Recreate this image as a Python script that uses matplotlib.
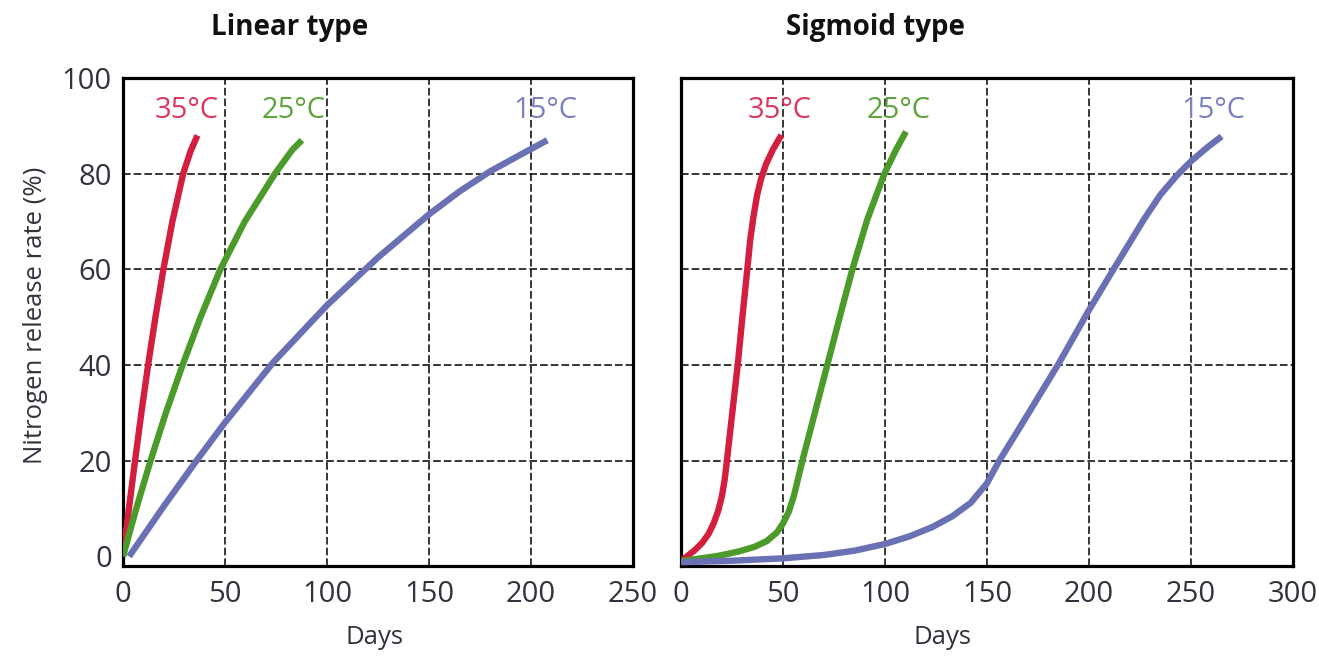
import matplotlib
matplotlib.use("Agg")
import matplotlib.pyplot as plt

plt.rcParams["font.family"] = ["Open Sans", "DejaVu Sans"]

# linear type curves (days, release %)
lin_35_days = [0, 2.9, 5.9, 9.0, 12.3, 15.9, 19.8, 24.2, 29.5, 33.2, 36.5]
lin_35_rate = [0, 10, 20, 30, 40, 50, 60, 70, 80, 84.8, 88]
lin_25_days = [0, 6.5, 13.5, 21, 29.2, 38, 47.7, 59.7, 74.5, 83, 87.7]
lin_25_rate = [0, 10, 20, 30, 40, 50, 60, 70, 80, 85, 87]
lin_15_days = [3, 20, 36, 50, 73.5, 100, 125, 150, 165, 180, 195, 208]
lin_15_rate = [0, 10.5, 20, 28, 40.5, 52.5, 62.5, 71.5, 76.3, 80.5, 84, 87]

# sigmoid type curves
sig_35_days = [0, 3.5, 7, 10.5, 13.5, 16, 18.2, 20, 21.4, 22.5, 25, 27.8, 30,
               32.5, 33.9, 35.5, 37.3, 39.3, 41.7, 45, 49.2]
sig_35_rate = [-1, 0.2, 1.4, 2.9, 4.7, 6.9, 9.5, 12.5, 16, 20, 29.5, 40, 49.6,
               60, 66, 71, 75.5, 79, 82, 85, 88.1]
sig_25_days = [0, 18, 28, 36, 42, 47, 50, 52.8, 55.3, 59.5, 65.6, 71.7, 77.8,
               84, 91.3, 99.7, 105.4, 110.3]
sig_25_rate = [-1, 0.1, 1, 2, 3.2, 5, 6.9, 9.3, 12.6, 20, 30, 40, 50,
               60, 70.4, 80, 85, 88.8]
sig_15_days = [0, 25, 50, 70, 85, 100, 112, 123, 133, 142, 150, 156, 165, 175,
               185, 200, 212, 227, 235, 243, 250, 258, 265]
sig_15_rate = [-1.2, -0.9, -0.4, 0.3, 1.2, 2.6, 4.2, 6.1, 8.4, 11.2, 15.3, 20,
               26.2, 33.2, 40.2, 51.5, 60, 70.5, 75.6, 79.6, 82.6, 85.5, 87.8]

temps = ["35°C", "25°C", "15°C"]
line_colors = ["#d21f40", "#4c9a2a", "#6970b3"]
label_colors = ["#d9395c", "#5ea43c", "#7a80c0"]
lin_label_x = [31.4, 83.8, 206.9]
sig_label_x = [48.3, 106.8, 261]
label_y = 93.3

lin_ticks = [0, 50, 100, 150, 200, 250]
sig_ticks = [0, 50, 100, 150, 200, 250, 300]
y_ticks = [0, 20, 40, 60, 80, 100]

W, H = 1319, 656
fig = plt.figure(figsize=(W / 100, H / 100), dpi=100)
ax1 = fig.add_axes([123 / W, 90 / H, 510 / W, 488 / H])
ax2 = fig.add_axes([681 / W, 90 / H, 612 / W, 488 / H])

tick_color = "#33333f"

for ax in (ax1, ax2):
    for s in ax.spines.values():
        s.set_linewidth(2.3)
        s.set_color("black")
    ax.tick_params(length=0, labelsize=21, colors=tick_color)
    ax.tick_params(axis="x", pad=10)
    ax.tick_params(axis="y", pad=8)
    ax.set_ylim(-2, 100)
    ax.set_yticks(y_ticks)
    ax.grid(True, color="black", linestyle=(0, (5, 2)), linewidth=1.1)
    ax.set_axisbelow(True)
    ax.yaxis.get_gridlines()[0].set_visible(False)

ax1.set_xlim(0, 250)
ax1.set_xticks(lin_ticks)
ax2.set_xlim(0, 298)
ax2.set_xticks(sig_ticks)
ax2.set_yticklabels([])

lin = [(lin_35_days, lin_35_rate), (lin_25_days, lin_25_rate), (lin_15_days, lin_15_rate)]
sig = [(sig_35_days, sig_35_rate), (sig_25_days, sig_25_rate), (sig_15_days, sig_15_rate)]

for i in range(3):
    ax1.plot(lin[i][0], lin[i][1], color=line_colors[i], lw=4.6,
             solid_capstyle="butt", solid_joinstyle="round", zorder=3)
    ax2.plot(sig[i][0], sig[i][1], color=line_colors[i], lw=4.6,
             solid_capstyle="butt", solid_joinstyle="round", zorder=3)
    ax1.text(lin_label_x[i], label_y, temps[i], color=label_colors[i],
             fontsize=21, ha="center", va="center", zorder=4)
    ax2.text(sig_label_x[i], label_y, temps[i], color=label_colors[i],
             fontsize=21, ha="center", va="center", zorder=4)

fig.text(290 / W, 1 - 27 / H, "Linear type", fontsize=20, fontweight="bold",
         ha="center", va="center", color="#111111")
fig.text(876 / W, 1 - 27 / H, "Sigmoid type", fontsize=20, fontweight="bold",
         ha="center", va="center", color="#111111")
fig.text(36 / W, 1 - 315 / H, "Nitrogen release rate (%)", fontsize=18.5,
         rotation=90, ha="center", va="center", color=tick_color)
fig.text(375 / W, 1 - 637 / H, "Days", fontsize=18.5, ha="center", va="center",
         color=tick_color)
fig.text(942 / W, 1 - 637 / H, "Days", fontsize=18.5, ha="center", va="center",
         color=tick_color)

fig.savefig("out.png", dpi=100)
